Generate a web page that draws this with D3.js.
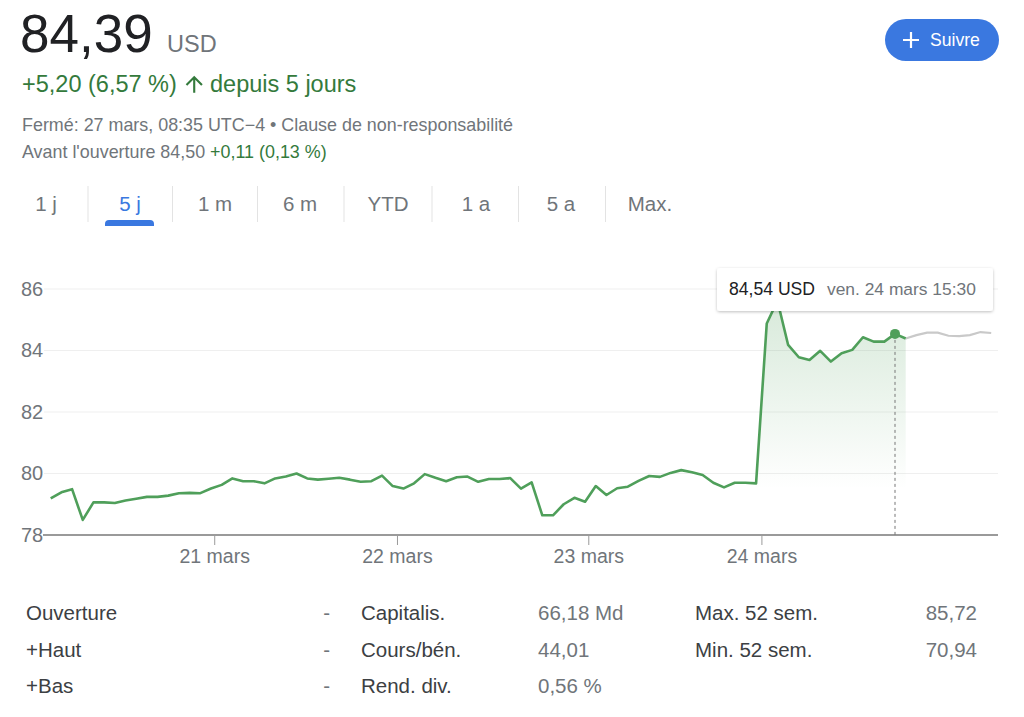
<!DOCTYPE html>
<html>
<head>
<meta charset="utf-8">
<script src="https://cdnjs.cloudflare.com/ajax/libs/d3/7.8.5/d3.min.js"></script>
<style>
  body { margin: 0; background: #fff; }
  svg text { font-family: Arial, "Liberation Sans", sans-serif; }
</style>
</head>
<body>
<div id="chart"></div>
<script>
// price every 30 min over the 5 days (green = up to the close, gray = after hours)
var priceValues = [79.19, 79.39, 79.49, 78.49, 79.06, 79.06, 79.04, 79.12, 79.18, 79.24,
  79.24, 79.28, 79.36, 79.37, 79.36, 79.51, 79.63, 79.84, 79.75, 79.75,
  79.68, 79.84, 79.90, 80.00, 79.84, 79.80, 79.83, 79.86, 79.80, 79.73,
  79.75, 79.93, 79.59, 79.51, 79.68, 79.98, 79.86, 79.75, 79.88, 79.90,
  79.73, 79.82, 79.82, 79.85, 79.51, 79.71, 78.64, 78.64, 79.00, 79.21,
  79.08, 79.59, 79.30, 79.52, 79.57, 79.76, 79.92, 79.89, 80.02, 80.11,
  80.04, 79.95, 79.70, 79.55, 79.70, 79.70, 79.68, 84.88, 85.62, 84.18,
  83.78, 83.69, 83.99, 83.64, 83.91, 84.02, 84.43, 84.29, 84.29, 84.54,
  84.39];
var afterHoursValues = [84.50, 84.58, 84.58, 84.48, 84.47, 84.50, 84.60, 84.57];

var yTicks = [78, 80, 82, 84, 86];
var xTickLabels = ["21 mars", "22 mars", "23 mars", "24 mars"];
var xTickIndex = [15.3, 32.4, 50.3, 66.5];   // where midnight falls between samples
var hoverIndex = 79;
var fillStart = 66;

var tabs = ["1 j", "5 j", "1 m", "6 m", "YTD", "1 a", "5 a", "Max."];
var statLabels1 = ["Ouverture", "+Haut", "+Bas"];
var statValues1 = ["-", "-", "-"];
var statLabels2 = ["Capitalis.", "Cours/bén.", "Rend. div."];
var statValues2 = ["66,18 Md", "44,01", "0,56 %"];
var statLabels3 = ["Max. 52 sem.", "Min. 52 sem."];
var statValues3 = ["85,72", "70,94"];

((() => {

  var width = 1024,
    height = 717

  var green = "#4f9f5a",
    darkText = "#202124",
    grayText = "#70757a",
    upText = "#347a3c",
    blue = "#3a78e0"

  var svg = d3.select("#chart")
    .append("svg")
    .attr("width", width)
    .attr("height", height)

  var defs = svg.append("defs")

  // ---- header ----
  svg.append("text").attr("x", 20).attr("y", 52)
    .style("font-size", "53px").attr("fill", darkText).text("84,39")
  svg.append("text").attr("x", 167).attr("y", 52)
    .style("font-size", "23.5px").attr("fill", grayText).text("USD")

  svg.append("text").attr("x", 22).attr("y", 92)
    .style("font-size", "23.5px").attr("fill", upText).text("+5,20 (6,57 %)")
  // material "arrow_upward" icon
  svg.append("path")
    .attr("d", "M4 12l1.41 1.41L11 7.83V20h2V7.83l5.58 5.59L20 12l-8-8-8 8z")
    .attr("transform", "translate(181.5,71.5) scale(1.06)")
    .attr("fill", upText)
  svg.append("text").attr("x", 210).attr("y", 92)
    .style("font-size", "23.5px").attr("fill", upText).text("depuis 5 jours")

  svg.append("text").attr("x", 22).attr("y", 131)
    .style("font-size", "17.9px").attr("fill", grayText)
    .text("Fermé: 27 mars, 08:35 UTC\u22124 \u2022 Clause de non-responsabilité")
  var pre = svg.append("text").attr("x", 22).attr("y", 158)
    .style("font-size", "17.9px").attr("fill", grayText)
  pre.append("tspan").text("Avant l'ouverture 84,50 ")
  pre.append("tspan").attr("fill", upText).text("+0,11 (0,13 %)")

  // follow button
  var btn = svg.append("g")
  btn.append("rect").attr("x", 885).attr("y", 19).attr("width", 114).attr("height", 42)
    .attr("rx", 21).attr("fill", blue)
  btn.append("path").attr("d", "M903,40H919M911,32V48")
    .attr("stroke", "#fff").attr("stroke-width", 2.2)
  btn.append("text").attr("x", 930).attr("y", 46)
    .style("font-size", "17.6px").attr("fill", "#fff").text("Suivre")

  // ---- range tabs ----
  var tabCenters = [46, 130, 215, 300, 388, 476, 561, 650]
  svg.selectAll(".tab")
    .data(tabs)
    .enter()
    .append("text")
    .attr("class", "tab")
    .attr("x", (d, i) => tabCenters[i])
    .attr("y", 211)
    .attr("text-anchor", "middle")
    .style("font-size", "20.5px")
    .attr("fill", d => d == "5 j" ? blue : grayText)
    .text(d => d)
  svg.selectAll(".sep")
    .data(d3.pairs(tabCenters))
    .enter()
    .append("line")
    .attr("x1", d => (d[0] + d[1]) / 2).attr("x2", d => (d[0] + d[1]) / 2)
    .attr("y1", 186).attr("y2", 222)
    .attr("stroke", "#e3e3e3")
  svg.append("path")
    .attr("d", "M105,226V224Q105,220,109,220H150Q154,220,154,224V226Z")
    .attr("fill", blue)

  // ---- chart ----
  var x = d3.scaleLinear()
    .domain([0, priceValues.length + afterHoursValues.length - 1])
    .range([50.7, 991.2])
  var y = d3.scaleLinear().domain([78, 86]).range([535, 289])

  svg.selectAll(".grid")
    .data(yTicks.slice(1))
    .enter()
    .append("line")
    .attr("x1", 44).attr("x2", 998)
    .attr("y1", d => y(d)).attr("y2", d => y(d))
    .attr("stroke", "#efefef")

  svg.selectAll(".ylab")
    .data(yTicks)
    .enter()
    .append("text")
    .attr("x", 21)
    .attr("y", d => y(d) + 6.5)
    .style("font-size", "20px")
    .attr("fill", grayText)
    .text(d => d)

  // gradient under the last session
  var grad = defs.append("linearGradient")
    .attr("id", "fade")
    .attr("gradientUnits", "userSpaceOnUse")
    .attr("x1", 0).attr("x2", 0)
    .attr("y1", y(86)).attr("y2", y(79.5))
  grad.append("stop").attr("offset", 0).attr("stop-color", green).attr("stop-opacity", 0.24)
  grad.append("stop").attr("offset", 1).attr("stop-color", green).attr("stop-opacity", 0)

  var points = priceValues.map((v, i) => ({ i: i, v: v }))
  var after = [points[points.length - 1]].concat(
    afterHoursValues.map((v, i) => ({ i: priceValues.length + i, v: v })))

  svg.append("path")
    .datum(points.filter(d => d.i >= fillStart))
    .attr("fill", "url(#fade)")
    .attr("d", d3.area().x(d => x(d.i)).y0(y(78)).y1(d => y(d.v)))

  // x axis
  var xAxis = d3.axisBottom(x)
    .tickValues(xTickIndex)
    .tickFormat((d, i) => xTickLabels[i])
    .tickSize(10)
    .tickSizeOuter(0)
  var gx = svg.append("g").attr("transform", "translate(0," + y(78) + ")").call(xAxis)
  gx.select(".domain").remove()
  gx.selectAll(".tick line").attr("stroke", "#9a9a9a")
  gx.selectAll(".tick text")
    .attr("y", 14)
    .style("font-size", "19.5px")
    .style("font-family", "Arial, 'Liberation Sans', sans-serif")
    .attr("fill", grayText)
  svg.append("line")
    .attr("x1", 43).attr("x2", 998)
    .attr("y1", y(78)).attr("y2", y(78))
    .attr("stroke", "#9a9a9a").attr("stroke-width", 2)

  var line = d3.line().x(d => x(d.i)).y(d => y(d.v))

  svg.append("path")
    .datum(after)
    .attr("fill", "none")
    .attr("stroke", "#c9c9c9")
    .attr("stroke-width", 2.2)
    .attr("d", line)

  svg.append("path")
    .datum(points)
    .attr("fill", "none")
    .attr("stroke", green)
    .attr("stroke-width", 2.6)
    .attr("stroke-linejoin", "round")
    .attr("d", line)

  // hover marker
  svg.append("line")
    .attr("x1", x(hoverIndex)).attr("x2", x(hoverIndex))
    .attr("y1", y(priceValues[hoverIndex])).attr("y2", y(78))
    .attr("stroke", "#777").attr("stroke-dasharray", "3,3")
  svg.append("circle")
    .attr("cx", x(hoverIndex)).attr("cy", y(priceValues[hoverIndex]))
    .attr("r", 5).attr("fill", green)

  // tooltip
  var shadow = defs.append("filter").attr("id", "shadow")
    .attr("x", -0.1).attr("y", -0.3).attr("width", 1.2).attr("height", 1.6)
  shadow.append("feDropShadow").attr("dx", 0).attr("dy", 1).attr("stdDeviation", 1.5)
    .attr("flood-color", "#000").attr("flood-opacity", 0.25)
  svg.append("rect")
    .attr("x", 717).attr("y", 268).attr("width", 276).attr("height", 43)
    .attr("rx", 3).attr("fill", "#fff").attr("filter", "url(#shadow)")
  svg.append("text").attr("x", 729).attr("y", 295)
    .style("font-size", "17.6px").attr("fill", darkText).text("84,54 USD")
  svg.append("text").attr("x", 827).attr("y", 295)
    .style("font-size", "17.4px").attr("fill", grayText).text("ven. 24 mars 15:30")

  // ---- key stats ----
  var rowY = [620, 657, 693]
  function column(labels, values, lx, vx, anchor) {
    svg.selectAll(null).data(labels).enter().append("text")
      .attr("x", lx).attr("y", (d, i) => rowY[i])
      .style("font-size", "20.5px").attr("fill", "#3c4043").text(d => d)
    svg.selectAll(null).data(values).enter().append("text")
      .attr("x", vx).attr("y", (d, i) => rowY[i])
      .attr("text-anchor", anchor)
      .style("font-size", "20.5px").attr("fill", grayText).text(d => d)
  }
  column(statLabels1, statValues1, 26, 330, "end")
  column(statLabels2, statValues2, 361, 538, "start")
  column(statLabels3, statValues3, 695, 977, "end")

})())
</script>
</body>
</html>
